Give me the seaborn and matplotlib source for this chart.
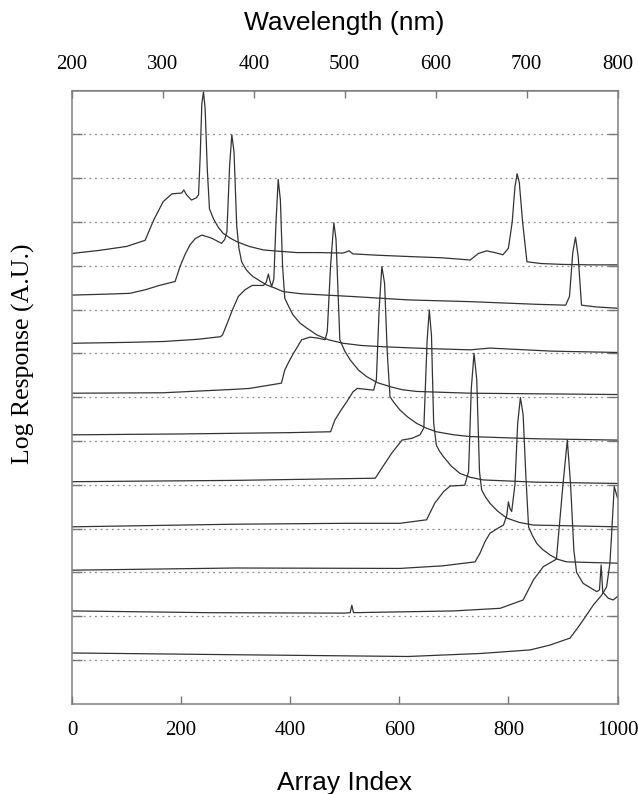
import pandas as pd
import matplotlib
matplotlib.use("Agg")
import matplotlib.pyplot as plt
import seaborn as sns

# spectra: array index and log response (stacked, arbitrary units)
t1_idx = [0, 50, 100, 134, 150, 167, 183, 201, 205, 210, 219, 228, 232, 235, 238, 241, 244, 248, 252, 259,
          268, 277, 290, 302, 325, 351, 380, 412, 450, 497, 508, 515, 560, 617, 680, 730, 745, 760, 775,
          790, 800, 807, 812, 816, 820, 826, 834, 860, 900, 950, 1000]
t1_val = [10.28, 10.35, 10.44, 10.58, 11.05, 11.46, 11.64, 11.66, 11.73, 11.62, 11.50, 11.55, 11.62, 12.5,
          13.7, 13.97, 13.6, 12.2, 11.3, 11.08, 10.88, 10.74, 10.63, 10.55, 10.44, 10.36, 10.33, 10.30,
          10.30, 10.29, 10.34, 10.27, 10.24, 10.21, 10.18, 10.13, 10.28, 10.34, 10.30, 10.25, 10.4, 11.0,
          11.8, 12.10, 11.9, 11.0, 10.09, 10.05, 10.03, 10.02, 10.02]

t2_idx = [0, 60, 106, 134, 160, 189, 198, 207, 216, 226, 238, 256, 268, 274, 280, 284, 289, 293, 297, 302,
          306, 311, 316, 320, 326, 332, 345, 357, 370, 387, 420, 510, 616, 730, 850, 905, 912, 918, 923,
          928, 934, 960, 1000]
t2_val = [9.33, 9.35, 9.37, 9.45, 9.55, 9.64, 9.98, 10.25, 10.47, 10.62, 10.70, 10.63, 10.55, 10.51, 10.6,
          10.78, 12.3, 12.99, 12.6, 10.9, 10.4, 10.09, 9.98, 9.9, 9.82, 9.75, 9.65, 9.56, 9.50, 9.41, 9.36,
          9.30, 9.22, 9.18, 9.12, 9.10, 9.3, 10.3, 10.65, 10.2, 9.1, 9.06, 9.03]

t3_idx = [0, 100, 167, 230, 272, 276, 285, 294, 305, 317, 330, 351, 356, 360, 363, 366, 370, 374, 378, 382,
          386, 390, 398, 405, 418, 430, 449, 470, 497, 530, 571, 650, 730, 766, 880, 1000]
t3_val = [8.23, 8.25, 8.27, 8.32, 8.38, 8.42, 8.7, 8.99, 9.3, 9.45, 9.55, 9.55, 9.62, 9.81, 9.65, 9.52, 9.7,
          11.0, 11.97, 11.5, 10.0, 9.26, 9.05, 8.88, 8.69, 8.58, 8.42, 8.31, 8.23, 8.18, 8.15, 8.11, 8.08,
          8.12, 8.05, 8.02]

t4_idx = [0, 167, 300, 326, 384, 390, 398, 406, 421, 436, 450, 464, 468, 474, 480, 484, 488, 491, 500, 510,
          525, 540, 560, 583, 605, 632, 730, 1000]
t4_val = [7.09, 7.10, 7.18, 7.20, 7.32, 7.62, 7.82, 8.00, 8.31, 8.37, 8.35, 8.31, 8.5, 10.0, 10.98, 10.6,
          9.3, 8.31, 8.05, 7.85, 7.62, 7.47, 7.33, 7.24, 7.17, 7.13, 7.09, 7.06]

t5_idx = [0, 200, 400, 474, 482, 493, 504, 515, 523, 553, 558, 563, 568, 573, 578, 583, 590, 601, 615, 632,
          650, 668, 700, 730, 850, 1000]
t5_val = [6.14, 6.16, 6.19, 6.21, 6.48, 6.70, 6.90, 7.12, 7.20, 7.16, 7.4, 9.0, 9.98, 9.6, 8.0, 7.01, 6.88,
          6.71, 6.55, 6.40, 6.29, 6.21, 6.14, 6.10, 6.05, 6.02]

t6_idx = [0, 300, 556, 568, 586, 605, 623, 638, 645, 651, 655, 659, 663, 668, 674, 681, 695, 711, 730, 754,
          850, 1000]
t6_val = [5.07, 5.10, 5.15, 5.38, 5.72, 6.02, 6.06, 6.14, 6.3, 8.3, 8.99, 8.4, 6.4, 5.9, 5.76, 5.64, 5.43,
          5.26, 5.17, 5.11, 5.06, 5.03]

t7_idx = [0, 300, 500, 601, 650, 665, 681, 693, 720, 727, 732, 737, 742, 747, 751, 758, 766, 780, 797, 820,
          846, 1000]
t7_val = [4.04, 4.10, 4.12, 4.12, 4.20, 4.58, 4.84, 4.97, 4.99, 5.3, 7.2, 8.00, 7.4, 5.3, 4.88, 4.72, 4.58,
          4.40, 4.24, 4.14, 4.08, 4.04]

t8_idx = [0, 300, 601, 680, 739, 748, 757, 766, 781, 791, 797, 800, 803, 806, 812, 817, 822, 827, 832, 837,
          844, 852, 863, 876, 890, 907, 1000]
t8_val = [3.05, 3.10, 3.09, 3.15, 3.24, 3.44, 3.7, 3.89, 4.01, 4.08, 4.3, 4.61, 4.45, 4.39, 5.0, 6.4, 6.99,
          6.6, 5.2, 4.04, 3.84, 3.66, 3.52, 3.40, 3.30, 3.24, 3.21]

t9_idx = [0, 250, 500, 510, 513, 516, 700, 785, 827, 846, 864, 885, 888, 900, 908, 914, 920, 925, 937, 950,
          962, 967, 970, 973, 983, 992, 1000]
t9_val = [2.12, 2.08, 2.07, 2.08, 2.25, 2.08, 2.12, 2.18, 2.37, 2.83, 3.13, 3.28, 3.3, 5.0, 6.02, 5.0, 3.5,
          3.0, 2.75, 2.65, 2.56, 2.6, 3.17, 2.55, 2.41, 2.37, 2.45]

t10_idx = [0, 300, 616, 751, 840, 876, 913, 925, 937, 956, 971, 980, 986, 989, 994, 1000]
t10_val = [1.16, 1.12, 1.08, 1.15, 1.23, 1.34, 1.50, 1.70, 1.91, 2.26, 2.48, 2.67, 3.2, 3.82, 4.96, 4.7]

traces = [(t1_idx, t1_val), (t2_idx, t2_val), (t3_idx, t3_val), (t4_idx, t4_val), (t5_idx, t5_val),
          (t6_idx, t6_val), (t7_idx, t7_val), (t8_idx, t8_val), (t9_idx, t9_val), (t10_idx, t10_val)]

x_ticks = [0, 200, 400, 600, 800, 1000]
wl_ticks = [200, 300, 400, 500, 600, 700, 800]
grid_levels = list(range(1, 14))

frames = []
for n, (ix, val) in enumerate(traces):
    frames.append(pd.DataFrame({'trace': n + 1, 'index': ix, 'response': val}))
df = pd.concat(frames, ignore_index=True)

sns.set_style("ticks")
plt.rcParams['font.family'] = ['Liberation Serif', 'DejaVu Serif']
plt.rcParams['text.color'] = 'black'
plt.rcParams['xtick.labelcolor'] = 'black'

fig = plt.figure(figsize=(6.38, 7.94), dpi=100)
ax = fig.add_axes([72 / 638, 1 - 703.8 / 794, 545.5 / 638, 613.3 / 794])

ax.grid(True, axis='y', linestyle=(0, (1.5, 3)), color='#8c8c8c', linewidth=0.9)
ax.grid(False, axis='x')
sns.lineplot(data=df, x='index', y='response', units='trace', estimator=None,
             color='#333333', linewidth=0.9, ax=ax, legend=False)

ax.set_xlim(0, 1000)
ax.set_ylim(0, 14)
ax.set_xticks(x_ticks)
ax.set_yticks(grid_levels)
ax.set_yticklabels([])
ax.set_xlabel('')
ax.set_ylabel('')
ax.tick_params(axis='x', direction='in', length=6, width=1, color='#777777', pad=12.5,
               labelsize=15, labelcolor='black')
ax.tick_params(axis='y', direction='in', length=7, width=1, color='#777777', left=True, right=True)
for s in ax.spines.values():
    s.set_color('#808080')
    s.set_linewidth(1.1)
    s.set_visible(True)

secax = ax.secondary_xaxis('top', functions=(lambda i: 200 + 0.6 * i, lambda w: (w - 200) / 0.6))
secax.set_xticks(wl_ticks)
secax.tick_params(direction='in', length=6, width=1, color='#777777', pad=12, labelsize=15,
                  labelcolor='black')
secax.spines['top'].set_color('#808080')

fig.text(344.5 / 638, 1 - 23 / 794, 'Wavelength (nm)', ha='center', va='center',
         fontsize=19, family=['Liberation Sans', 'DejaVu Sans'], color='black')
fig.text(344.5 / 638, 1 - 783 / 794, 'Array Index', ha='center', va='center',
         fontsize=19, family=['Liberation Sans', 'DejaVu Sans'], color='black')
fig.text(23 / 638, 1 - 354 / 794, 'Log Response (A.U.)', ha='center', va='center',
         rotation=90, fontsize=18.5, color='black')

fig.savefig('out.png', dpi=100)
